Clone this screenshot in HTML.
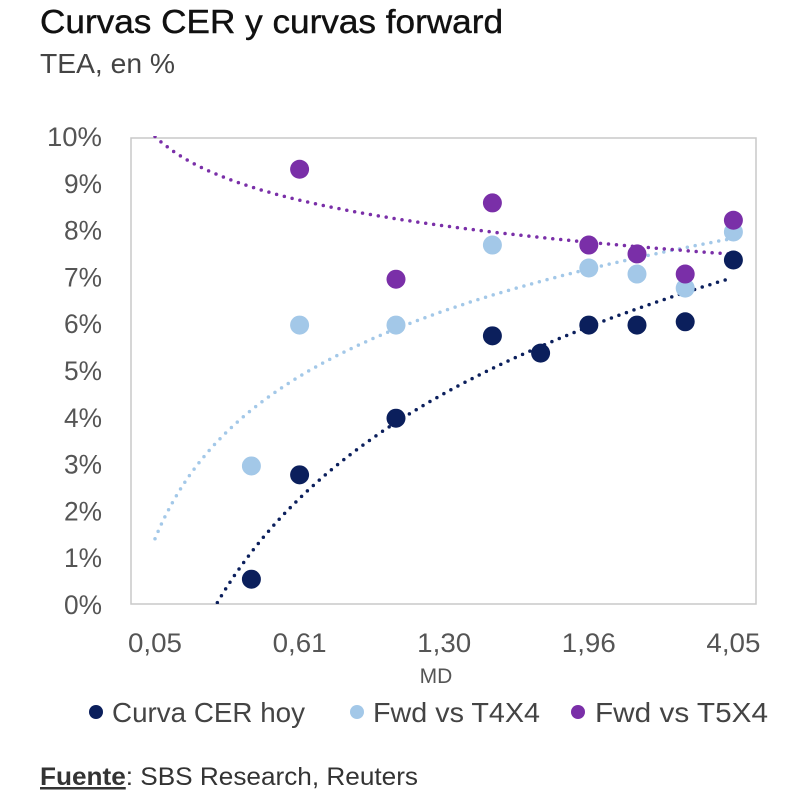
<!DOCTYPE html>
<html><head><meta charset="utf-8"><style>
body{margin:0;background:#fff;width:800px;height:796px;overflow:hidden;font-family:"Liberation Sans",sans-serif;}
</style></head><body>
<svg width="800" height="796" viewBox="0 0 800 796">
<text x="40" y="33" font-size="33" fill="#111" stroke="#111" stroke-width="0.4" textLength="463" lengthAdjust="spacingAndGlyphs">Curvas CER y curvas forward</text>
<text x="40" y="73" font-size="28" fill="#444" textLength="135" lengthAdjust="spacingAndGlyphs">TEA, en %</text>
<rect x="131" y="138" width="625" height="466" fill="none" stroke="#c8c8c8" stroke-width="1.5"/>
<g id="yaxis"></g>
<g id="xaxis"></g>
<defs><clipPath id="clip"><rect x="131" y="136" width="625" height="468"/></clipPath></defs>
<g id="trends" clip-path="url(#clip)"></g>
<g id="marks"></g>
<text x="436" y="683" font-size="21" fill="#555" text-anchor="middle">MD</text>
<g>
<g><circle cx="96" cy="712" r="7" fill="#0b1f5c"/><text x="112" y="722" font-size="28" fill="#444" textLength="193" lengthAdjust="spacingAndGlyphs">Curva CER hoy</text></g>
<g><circle cx="357" cy="712" r="7" fill="#a3c8e8"/><text x="373" y="722" font-size="28" fill="#444" textLength="167" lengthAdjust="spacingAndGlyphs">Fwd vs T4X4</text></g>
<g><circle cx="578" cy="712" r="7" fill="#7a2fa8"/><text x="595" y="722" font-size="28" fill="#444" textLength="173" lengthAdjust="spacingAndGlyphs">Fwd vs T5X4</text></g>
</g>
<text x="40" y="785" font-size="25" fill="#333" textLength="378" lengthAdjust="spacingAndGlyphs"><tspan font-weight="bold" text-decoration="underline">Fuente</tspan>: SBS Research, Reuters</text>
</svg>
<script>
const xTickLabels = ["0,05","0,61","1,30","1,96","4,05"];
const xTickIdx = [0,3,6,9,12];
const yTicks = [0,1,2,3,4,5,6,7,8,9,10];
const cerIdx = [2,3,5,7,8,9,10,11,12];
const cerVals = [0.53,2.76,3.97,5.73,5.36,5.96,5.96,6.03,7.35];
const t4Idx = [2,3,5,7,9,10,11,12];
const t4Vals = [2.95,5.96,5.96,7.67,7.18,7.05,6.75,7.95];
const t5Idx = [3,5,7,9,10,11,12];
const t5Vals = [9.29,6.94,8.57,7.67,7.48,7.05,8.2];

const NS="http://www.w3.org/2000/svg";
const X0=155, XS=48.2, Y0=604, YS=46.8;
const xs=i=>X0+i*XS, ys=v=>Y0-v*YS;
function mk(tag,attrs,parent){const e=document.createElementNS(NS,tag);for(const k in attrs)e.setAttribute(k,attrs[k]);parent.appendChild(e);return e;}
const ya=document.getElementById('yaxis'), xa=document.getElementById('xaxis');
yTicks.forEach(v=>{const t=mk('text',{x:102,y:ys(v)+10,'font-size':27,fill:'#555','text-anchor':'end',textLength:(v>=10?55:38),lengthAdjust:'spacingAndGlyphs'},ya);t.textContent=v+'%';

});
xTickIdx.forEach((i,k)=>{const t=mk('text',{x:xs(i),y:652,'font-size':27,fill:'#555','text-anchor':'middle',textLength:54,lengthAdjust:'spacingAndGlyphs'},xa);t.textContent=xTickLabels[k];

});
const series=[[cerIdx,cerVals,'#0b1f5c','cer'],[t4Idx,t4Vals,'#a3c8e8','t4x4'],[t5Idx,t5Vals,'#7a2fa8','t5x4']];
const tg=document.getElementById('trends'), mg=document.getElementById('marks');
series.forEach(([idx,vals,col,name])=>{
  const lx=idx.map(i=>Math.log(i+1)),n=lx.length;
  const mx=lx.reduce((a,b)=>a+b)/n,my=vals.reduce((a,b)=>a+b)/n;
  let c=0,v=0;lx.forEach((x,k)=>{c+=(x-mx)*(vals[k]-my);v+=(x-mx)*(x-mx);});
  const a=c/v,b=my-a*mx;let d='';
  for(let t=0;t<=12;t+=0.05){const y=a*Math.log(t+1)+b;d+=(d?'L':'M')+xs(t).toFixed(1)+','+ys(y).toFixed(1);}
  const p=mk('path',{d:d,fill:'none',stroke:col,'stroke-width':3.5,'stroke-dasharray':'0 8','stroke-linecap':'round'},tg);
  
  
});
series.forEach(([idx,vals,col,name])=>{
  idx.forEach((i,k)=>{const c=mk('circle',{cx:xs(i),cy:ys(vals[k]),r:9.5,fill:col},mg);
  
  });
});
</script>
</body></html>
